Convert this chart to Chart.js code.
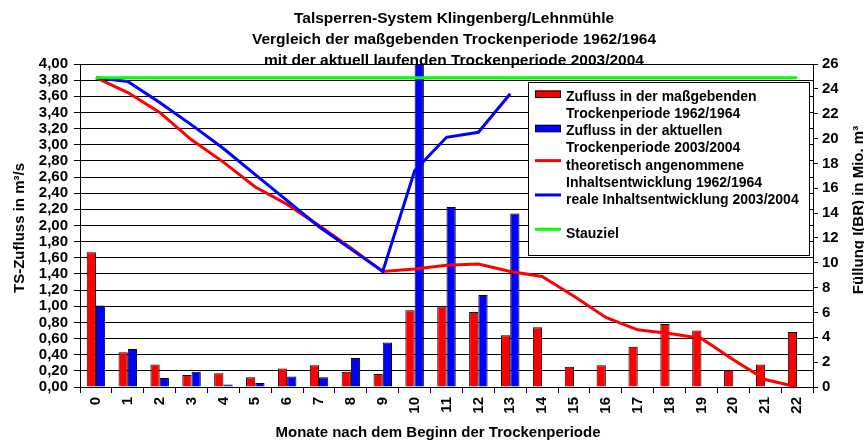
<!DOCTYPE html>
<html>
<head>
<meta charset="utf-8">
<script src="https://cdn.jsdelivr.net/npm/chart.js@4"></script>
<style>
  body { margin: 0; background: #fff; }
  #box { width: 864px; height: 441px; }
</style>
</head>
<body>
<div id="box"><canvas id="talsperre"></canvas></div>
<script>
const months = ['0', '1', '2', '3', '4', '5', '6', '7', '8', '9', '10', '11',
  '12', '13', '14', '15', '16', '17', '18', '19', '20', '21', '22'];

// Zufluss in m³/s (linke Achse)
const inflow1962 = [1.67, 0.43, 0.28, 0.15, 0.17, 0.12, 0.23, 0.27, 0.19, 0.16, 0.95, 1.00,
  0.93, 0.64, 0.74, 0.25, 0.27, 0.50, 0.78, 0.70, 0.21, 0.28, 0.68];
const inflow2003 = [1.01, 0.47, 0.11, 0.19, 0.03, 0.05, 0.13, 0.12, 0.36, 0.55, 4.00, 2.23,
  1.14, 2.15, null, null, null, null, null, null, null, null, null];

// Füllung in Mio. m³ (rechte Achse)
const content1962 = [24.9, 23.7, 22.1, 19.9, 18.1, 16.1, 14.7, 13.0, 11.2, 9.3, 9.5, 9.8,
  9.9, 9.3, 8.9, 7.3, 5.6, 4.6, 4.3, 3.9, 2.2, 0.6, 0.0];
const content2003 = [24.9, 24.6, 22.9, 21.1, 19.2, 17.1, 15.0, 12.9, 11.1, 9.3, 17.4, 20.1,
  20.5, 23.6, null, null, null, null, null, null, null, null, null];
const stauziel = [24.9, 24.9, 24.9, 24.9, 24.9, 24.9, 24.9, 24.9, 24.9, 24.9, 24.9, 24.9,
  24.9, 24.9, 24.9, 24.9, 24.9, 24.9, 24.9, 24.9, 24.9, 24.9, 24.9];

const titleLines = [
  'Talsperren-System Klingenberg/Lehnmühle',
  'Vergleich der maßgebenden Trockenperiode 1962/1964',
  'mit der aktuell laufenden Trockenperiode 2003/2004'
];
const xTitle = 'Monate nach dem Beginn der Trockenperiode';
const yTitle = 'TS-Zufluss in m³/s';
const y2Title = 'Füllung I(BR) in Mio. m³';

const legendEntries = [
  { kind: 'box', color: '#ff0000', row: 0, text: ['Zufluss in der maßgebenden', 'Trockenperiode 1962/1964'] },
  { kind: 'box', color: '#0000ff', row: 2, text: ['Zufluss in der aktuellen', 'Trockenperiode 2003/2004'] },
  { kind: 'line', color: '#ff0000', row: 4, text: ['theoretisch angenommene', 'Inhaltsentwicklung 1962/1964'] },
  { kind: 'line', color: '#0000ff', row: 6, text: ['reale Inhaltsentwicklung 2003/2004'] },
  { kind: 'line', color: '#00ff00', row: 8, text: ['Stauziel'] }
];

const FONT = "'Liberation Sans', Arial, sans-serif";
Chart.defaults.font.family = FONT;
Chart.defaults.font.size = 15;
Chart.defaults.font.weight = 'bold';
Chart.defaults.color = '#000';

// titles, axis titles and the boxed legend
const decorations = {
  id: 'decorations',
  afterDraw(chart) {
    const ctx = chart.ctx;
    ctx.save();
    ctx.fillStyle = '#000';
    ctx.textBaseline = 'alphabetic';
    ctx.textAlign = 'center';

    ctx.font = 'bold 15.5px ' + FONT;
    titleLines.forEach((t, i) => ctx.fillText(t, 454, 23 + i * 21));

    ctx.font = 'bold 15px ' + FONT;
    ctx.fillText(xTitle, 438, 437);

    ctx.save();
    ctx.translate(24, 228);
    ctx.rotate(-Math.PI / 2);
    ctx.fillText(yTitle, 0, 0);
    ctx.restore();

    ctx.save();
    ctx.translate(863, 210);
    ctx.rotate(-Math.PI / 2);
    ctx.fillText(y2Title, 0, 0);
    ctx.restore();

    // legend
    ctx.fillStyle = '#fff';
    ctx.fillRect(528, 82, 282, 174);
    ctx.strokeStyle = '#000';
    ctx.lineWidth = 1;
    ctx.strokeRect(528.5, 82.5, 281, 173);

    ctx.font = 'bold 14px ' + FONT;
    ctx.textAlign = 'left';
    legendEntries.forEach(e => {
      const base = 101 + e.row * 17.16;
      if (e.kind === 'box') {
        ctx.fillStyle = e.color;
        ctx.fillRect(535, base - 10.5, 26, 7);
        ctx.strokeStyle = '#000';
        ctx.lineWidth = 1;
        ctx.strokeRect(535.5, base - 10, 25, 6.5);
      } else {
        ctx.strokeStyle = e.color;
        ctx.lineWidth = 3;
        ctx.beginPath();
        ctx.moveTo(535, base - 9);
        ctx.lineTo(561, base - 9);
        ctx.stroke();
      }
      ctx.fillStyle = '#000';
      e.text.forEach((t, i) => ctx.fillText(t, 566, base + i * 17.16));
    });
    ctx.restore();
  }
};

const ctx = document.getElementById('talsperre').getContext('2d');

new Chart(ctx, {
  type: 'bar',
  data: {
    labels: months,
    datasets: [
      {
        type: 'line',
        label: 'Stauziel',
        data: stauziel,
        yAxisID: 'y2',
        borderColor: '#00ff00',
        borderWidth: 3,
        pointRadius: 0,
        tension: 0,
        order: 0
      },
      {
        type: 'line',
        label: 'reale Inhaltsentwicklung 2003/2004',
        data: content2003,
        yAxisID: 'y2',
        borderColor: '#0000ff',
        borderWidth: 3,
        pointRadius: 0,
        tension: 0,
        order: 0
      },
      {
        type: 'line',
        label: 'theoretisch angenommene Inhaltsentwicklung 1962/1964',
        data: content1962,
        yAxisID: 'y2',
        borderColor: '#ff0000',
        borderWidth: 3,
        pointRadius: 0,
        tension: 0,
        order: 0
      },
      {
        label: 'Zufluss in der maßgebenden Trockenperiode 1962/1964',
        data: inflow1962,
        yAxisID: 'y',
        backgroundColor: '#ff0000',
        borderColor: '#000',
        borderWidth: 1,
        categoryPercentage: 0.58,
        barPercentage: 1,
        order: 1
      },
      {
        label: 'Zufluss in der aktuellen Trockenperiode 2003/2004',
        data: inflow2003,
        yAxisID: 'y',
        backgroundColor: '#0000ff',
        borderColor: '#000',
        borderWidth: 1,
        categoryPercentage: 0.58,
        barPercentage: 1,
        order: 1
      }
    ]
  },
  plugins: [decorations],
  options: {
    responsive: true,
    maintainAspectRatio: false,
    animation: false,
    layout: {
      padding: { top: 64, left: 0, right: 0, bottom: 0 }
    },
    plugins: {
      legend: { display: false },
      tooltip: { enabled: false }
    },
    scales: {
      x: {
        afterFit: s => { s.height = 54; },
        grid: {
          display: true,
          drawOnChartArea: false,
          color: '#000',
          tickLength: 6
        },
        border: { color: '#000' },
        ticks: {
          minRotation: 90,
          maxRotation: 90,
          padding: 4,
          autoSkip: false
        }
      },
      y: {
        position: 'left',
        min: 0,
        max: 4,
        afterFit: s => { s.width = 80; },
        grid: {
          color: '#000',
          tickLength: 6
        },
        border: { color: '#000' },
        ticks: {
          stepSize: 0.2,
          autoSkip: false,
          padding: 6,
          callback: v => v.toFixed(2).replace('.', ',')
        }
      },
      y2: {
        position: 'right',
        min: 0,
        max: 26,
        afterFit: s => { s.width = 51; },
        grid: {
          drawOnChartArea: false,
          color: '#000',
          tickLength: 5
        },
        border: { color: '#000' },
        ticks: {
          stepSize: 2,
          autoSkip: false,
          padding: 4
        }
      }
    }
  }
});
</script>
</body>
</html>
